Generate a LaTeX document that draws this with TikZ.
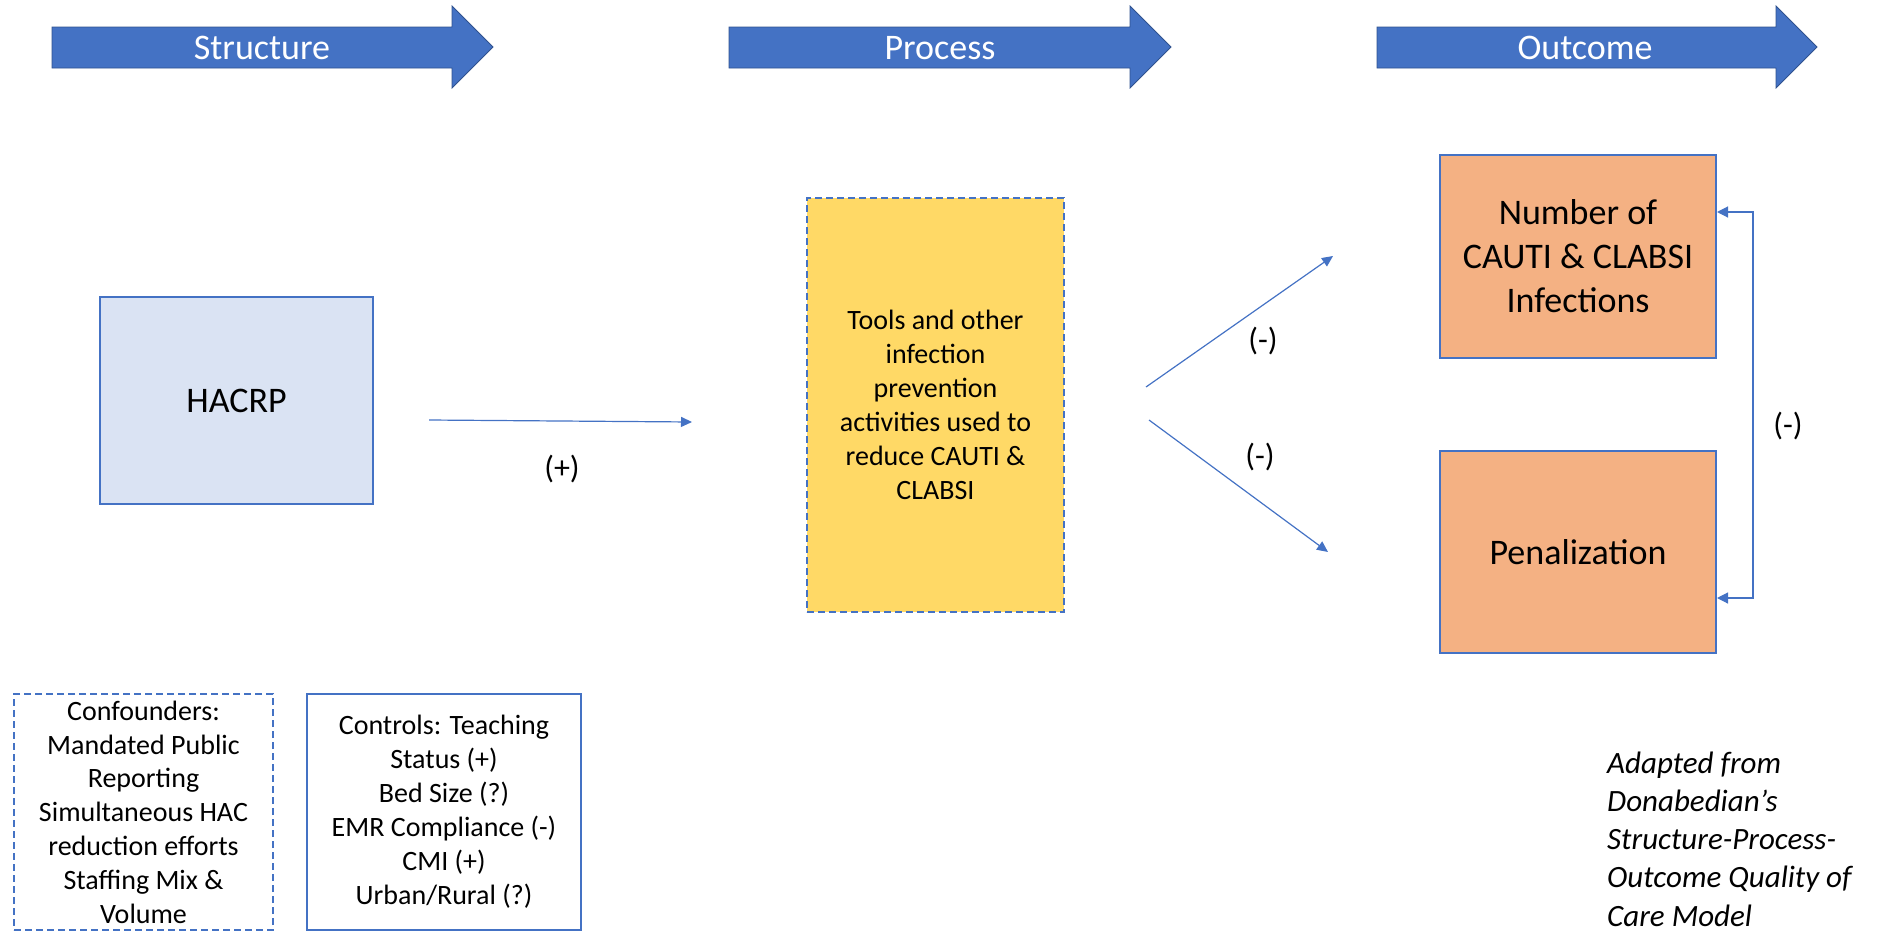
\documentclass[tikz,border=0pt]{standalone}
\usepackage{fontspec}
\setmainfont{Carlito}
\usetikzlibrary{arrows.meta}
\definecolor{acc}{HTML}{4472C4}
\definecolor{accdark}{HTML}{2F528F}
\definecolor{lblue}{HTML}{DAE3F3}
\definecolor{yel}{HTML}{FFD966}
\definecolor{org}{HTML}{F4B183}
\begin{document}
\begin{tikzpicture}[x=1pt,y=-1pt,
  hdr/.style={fill=acc,draw=accdark,line width=0.8pt},
  hdrtxt/.style={text=white,font=\fontsize{36}{44}\selectfont,inner sep=0pt,anchor=base},
  box/.style={draw=acc,line width=2pt,align=center,inner sep=0pt},
  dashbox/.style={box,dash pattern=on 7pt off 4pt},
  conn/.style={draw=acc,line width=1.2pt,-{Triangle[length=11pt,width=10pt]}},
  lbl/.style={font=\fontsize{32}{38}\selectfont,inner sep=0pt}]
\useasboundingbox (0,0) rectangle (1886,932);

% header arrows
\draw[hdr] (52,27) -- (452,27) -- (452,6) -- (493,47) -- (452,88) -- (452,68) -- (52,68) -- cycle;
\node[hdrtxt] (hs) at (262,59) {Structure};
\draw[hdr] (729,27) -- (1130,27) -- (1130,6) -- (1171,47) -- (1130,88) -- (1130,68) -- (729,68) -- cycle;
\node[hdrtxt] (hp) at (940,59) {Process};
\draw[hdr] (1377,27) -- (1776,27) -- (1776,6) -- (1817,47) -- (1776,88) -- (1776,68) -- (1377,68) -- cycle;
\node[hdrtxt] (ho) at (1585,59) {Outcome};

% boxes
\node[box,fill=lblue,minimum width=273pt,minimum height=207pt,font=\fontsize{36}{44}\selectfont] (hacrp) at (236.5,400.5) {HACRP};
\node[dashbox,fill=yel,minimum width=257pt,minimum height=414pt,font=\fontsize{28}{34}\selectfont] (proc) at (935.5,405)
  {Tools and other\\infection\\prevention\\activities used to\\reduce CAUTI \&\\CLABSI};
\node[box,fill=org,minimum width=276pt,minimum height=203pt,font=\fontsize{36}{44}\selectfont] (inf) at (1578,256.5)
  {Number of\\CAUTI \& CLABSI\\Infections};
\node[box,fill=org,minimum width=276pt,minimum height=202pt,font=\fontsize{36}{44}\selectfont] (pen) at (1578,552) {Penalization};
\node[dashbox,minimum width=259pt,minimum height=236pt,font=\fontsize{28}{33.8}\selectfont] (conf) at (143.5,812)
  {Confounders:\\Mandated Public\\Reporting\\Simultaneous HAC\\reduction efforts\\Staffing Mix \&\\Volume};
\node[box,minimum width=274pt,minimum height=236pt,font=\fontsize{28}{34}\selectfont] (ctrl) at (444,812)
  {Controls: Teaching\\Status (+)\\Bed Size (?)\\EMR Compliance (-)\\CMI (+)\\Urban/Rural (?)};
\node[inner sep=0pt,anchor=west,align=left,font=\itshape\fontsize{31}{38.2}\selectfont] (note) at (1607,839)
  {Adapted from\\Donabedian’s\\Structure-Process-\\Outcome Quality of\\Care Model};

% connectors
\coordinate (h1) at (429,420);
\coordinate (h2) at (692,422);
\draw[conn] (h1) -- (h2);
\node[lbl] (lp) at (562,469) {(+)};
\coordinate (u1) at (1146,387);
\coordinate (u2) at (1333,256);
\draw[conn] (u1) -- (u2);
\node[lbl] (lu) at (1263,341) {(-)};
\coordinate (d1) at (1149,420);
\coordinate (d2) at (1328,552);
\draw[conn] (d1) -- (d2);
\node[lbl] (ld) at (1260,457) {(-)};
\coordinate (fa) at (1753,212);
\coordinate (fb) at (1753,598);
\draw[draw=acc,line width=1.2pt,{Triangle[length=11pt,width=11pt]}-{Triangle[length=11pt,width=11pt]}]
  (fa -| inf.east) -- (fa) -- (fb) -- (fb -| pen.east);
\node[lbl] (lf) at (1788,426) {(-)};
\end{tikzpicture}
\end{document}
